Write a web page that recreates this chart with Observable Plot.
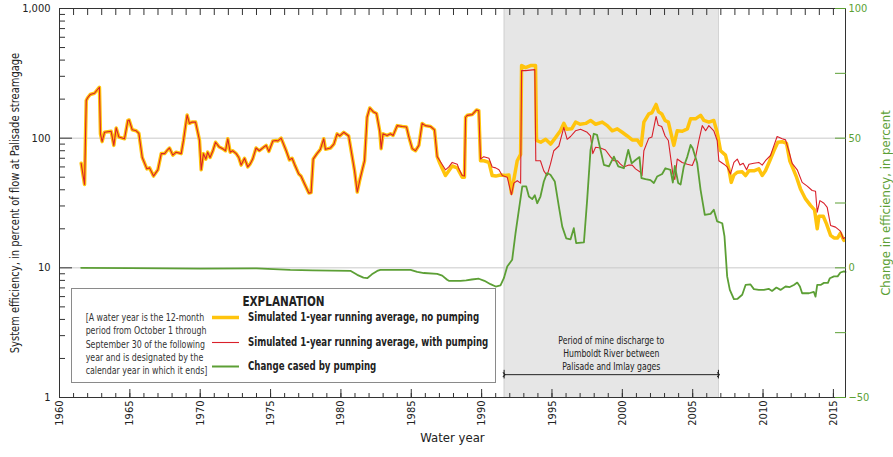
<!DOCTYPE html>
<html><head><meta charset="utf-8">
<script src="https://cdn.jsdelivr.net/npm/d3@7"></script>
<script src="https://cdn.jsdelivr.net/npm/@observablehq/plot@0.6"></script>
<style>
body{margin:0;background:#fff;}
#wrap{position:relative;width:893px;height:457px;font-family:"Liberation Sans Narrow","Arial Narrow","DejaVu Sans Condensed",sans-serif;color:#222;}
#legend{position:absolute;left:71px;top:288px;width:425px;height:95px;box-sizing:border-box;border:1.5px solid #8a8a8a;background:#fff;}
#legend .title{position:absolute;left:0;width:100%;top:4px;text-align:center;font-weight:bold;font-size:13.5px;white-space:nowrap;transform:scaleX(0.86);transform-origin:center;}
#legend .note{position:absolute;left:6px;width:122px;top:22px;text-align:center;font-size:10px;line-height:13.35px;color:#333;white-space:nowrap;transform:scaleX(0.875);transform-origin:center;}
#legend .item{position:absolute;left:176px;font-weight:bold;font-size:12px;line-height:14px;white-space:nowrap;transform:scaleX(0.8);transform-origin:left center;}
#legend svg{position:absolute;left:0;top:0;}
</style></head>
<body><div id="wrap"></div>
<script>
// ---- Data ----
// Shared part of both simulated series (identical before ~1987)
const bothYears = [1961.54,1961.78,1961.9,1962.0,1962.18,1962.49,1962.6,1962.84,1962.91,1963.03,1963.2,1963.67,1963.86,1964.03,1964.22,1964.62,1964.86,1964.95,1965.17,1965.45,1965.64,1965.88,1966.21,1966.4,1966.68,1966.99,1967.23,1967.47,1967.63,1967.82,1968.05,1968.29,1968.65,1968.81,1969.07,1969.23,1969.42,1969.67,1969.95,1970.07,1970.23,1970.4,1970.53,1970.7,1970.9,1971.09,1971.33,1971.66,1971.8,1971.96,1972.13,1972.3,1972.56,1972.74,1972.91,1973.15,1973.38,1973.54,1973.73,1973.97,1974.2,1974.5,1974.69,1974.88,1975.16,1975.4,1975.5,1975.75,1976.11,1976.34,1976.53,1976.7,1977.0,1977.16,1977.41,1977.72,1977.88,1978.03,1978.3,1978.54,1978.78,1978.9,1979.26,1979.5,1979.73,1979.92,1980.2,1980.55,1980.8,1980.97,1981.16,1981.35,1981.5,1981.68,1981.86,1982.05,1982.29,1982.53,1982.76,1982.86,1982.99,1983.28,1983.52,1983.71,1984.0,1984.36,1984.66,1984.83,1985.07,1985.3,1985.54,1985.77,1986.0,1986.37,1986.65,1986.84];
const bothValues = [64,44,195,205,217,222,230,247,108,94,111,113,88,120,102,99,137,138,116,114,109,71,58,59,51,57,76,76,80,84,74,78,76,96,151,130,133,133,96,57,76,69,78,71,80,93,86,82,80,99,78,80,76,71,62,70,60,63,69,84,80,85,88,79,95,96,95,100,80,68,70,63,53,51,44.5,37.7,38,69,76,82,99,82,84,90,108,104,111,104,72,56,38.4,48,56,67,145,171,160,155,113,83,108,105,108,105,125,123,122,102,83,80,88,130,125,123,116,72];

// Simulated 1-year running average, no pumping (after 1986.84)
const noPumpYears = [1987.03,1987.43,1987.67,1987.91,1988.27,1988.38,1988.62,1988.78,1988.86,1988.98,1989.33,1989.64,1989.8,1989.92,1990.16,1990.52,1990.75,1991.0,1991.34,1991.7,1991.94,1992.12,1992.29,1992.53,1992.77,1992.84,1993.12,1993.48,1993.83,1993.9,1994.2,1994.55,1994.9,1995.25,1995.6,1995.84,1996.05,1996.4,1996.68,1997.0,1997.4,1997.74,1998.1,1998.57,1998.93,1999.28,1999.64,1999.99,2000.35,2000.7,2001.06,2001.34,2001.53,2001.88,2002.1,2002.4,2002.57,2002.8,2003.04,2003.27,2003.66,2003.9,2004.26,2004.62,2004.85,2005.2,2005.56,2005.8,2006.15,2006.5,2006.74,2006.98,2007.33,2007.57,2007.74,2007.93,2008.17,2008.52,2008.76,2009.0,2009.35,2009.7,2009.94,2010.17,2010.48,2010.77,2011.05,2011.36,2011.67,2011.9,2012.14,2012.38,2012.66,2013.02,2013.37,2013.66,2013.85,2013.97,2014.28,2014.51,2014.8,2015.04,2015.3,2015.5,2015.74];
const noPumpValues = [64,51.5,56,61,59,56,50,50,145,150,152,165,163,67,67,65,51.5,51,52,51.5,52,37.6,48,67,75,363,350,363,363,96,93,98,90,101,114,130,117,118,133,128,130,137,128,133,125,114,118,111,104,97,97,88,133,154,157,182,160,154,137,133,88,114,113,118,141,141,150,137,133,137,111,80,74,58,45.6,52,54.6,55,51.5,56,56,58,51.5,56,67,80,93,94,91,67,58,50,40.6,34,30.3,28,20,25,25,21.8,17.8,17,17,18.5,16.3];

// Simulated 1-year running average, with pumping (after 1986.84)
const pumpYears = [1987.03,1987.43,1987.67,1987.91,1988.27,1988.38,1988.62,1988.78,1988.86,1988.98,1989.33,1989.64,1989.8,1989.92,1990.16,1990.52,1990.75,1991.0,1991.23,1991.47,1991.82,1992.12,1992.29,1992.53,1992.77,1992.84,1993.12,1993.78,1993.85,1994.18,1994.42,1994.65,1994.89,1995.13,1995.49,1995.84,1996.08,1996.32,1996.67,1997.03,1997.5,1997.74,1997.9,1998.1,1998.45,1998.8,1999.15,1999.4,1999.64,1999.87,2000.1,2000.46,2000.7,2000.94,2001.29,2001.4,2001.53,2001.88,2002.1,2002.4,2002.55,2002.8,2003.04,2003.27,2003.59,2003.73,2003.9,2004.25,2004.62,2004.97,2005.2,2005.44,2005.68,2005.92,2006.15,2006.5,2006.74,2006.86,2007.22,2007.45,2007.69,2007.93,2008.17,2008.36,2008.59,2008.83,2009.0,2009.35,2009.7,2009.94,2010.17,2010.53,2010.81,2011.0,2011.36,2011.6,2011.83,2012.07,2012.43,2012.78,2013.14,2013.49,2013.73,2013.85,2014.04,2014.33,2014.56,2014.8,2015.15,2015.5,2015.7,2015.86];
const pumpValues = [67,57,60,65,63,58,51.5,51,145,150,152,165,163,69,72,70,60,59,57,51.5,50,36.6,45,47,45,332,332,338,67,67,56,51.5,63,80,87,121,98,103,114,117,111,104,76,85,84,81,72,67,67,63,60,62,62,58,54.6,51.5,80,100,102,147,126,123,104,96,53,48,69,65,63,61.6,71,96,125,114,125,114,96,67,63,60,53,65,69,62,64,57,63,64,65,62,67,73.5,90,103,99,97,80,64,57,45.6,42.7,39.5,39,26.9,33,31.5,29.3,21.2,20.6,19.2,16.8,17.2];

// Change caused by pumping, in percent (right axis)
const changeYears = [1961.54,1965,1970,1974,1976.4,1978,1980.7,1981.16,1981.6,1981.87,1982.2,1982.58,1982.8,1984.95,1985.42,1985.9,1986.84,1987.2,1987.55,1987.67,1988.5,1988.9,1989.3,1989.8,1990.2,1990.63,1991.0,1991.34,1991.58,1991.82,1992.17,1992.41,1992.65,1992.89,1993.17,1993.36,1993.6,1993.78,1993.95,1994.18,1994.42,1994.65,1994.89,1995.2,1995.49,1995.73,1996.01,1996.32,1996.55,1996.72,1996.9,1997.27,1997.5,1997.74,1997.97,1998.2,1998.45,1998.69,1999.05,1999.4,1999.71,2000.11,2000.42,2000.66,2000.94,2001.22,2001.36,2001.65,2002.0,2002.24,2002.47,2002.83,2003.06,2003.42,2003.59,2003.73,2003.97,2004.14,2004.37,2004.62,2004.85,2005.0,2005.32,2005.56,2005.86,2006.27,2006.5,2006.74,2007.1,2007.26,2007.45,2007.64,2007.93,2008.17,2008.52,2008.76,2009.11,2009.35,2009.7,2010.06,2010.4,2010.64,2010.95,2011.24,2011.6,2011.9,2012.19,2012.43,2012.62,2012.78,2013.26,2013.61,2013.73,2013.85,2014.09,2014.33,2014.61,2014.75,2015.04,2015.3,2015.5,2015.74,2015.86];
const changeValues = [0,-0.1,-0.3,-0.2,-0.8,-1.0,-1.2,-2.7,-3.8,-4.0,-2.5,-1.2,-0.8,-0.8,-1.6,-2.0,-2.3,-3.0,-4.6,-5.0,-5.0,-4.8,-4.5,-4.2,-5.0,-6.3,-7.2,-6.8,-4.0,0.5,3.1,13.4,22.4,31.4,31.4,27.5,26.5,28.0,24.9,27.5,33.3,36.5,35.9,33.3,23.6,15.9,11.4,11,15.3,9.5,9.6,9.8,26.2,45.5,51.7,51.3,45.5,39.7,39.1,42.9,39.1,38.4,45.5,40.3,41.6,42.7,34.6,34.2,33.8,32.7,35.2,36.2,38.4,37.8,32.9,39.3,32.7,32.1,39.1,42.9,47.4,46.1,40.4,30.1,20.4,20.8,22.4,17.9,17.2,12.1,-3.3,-8.5,-12.1,-12,-10.4,-6.6,-6.4,-8.2,-8.5,-8.5,-8.1,-8.9,-7.6,-8.5,-7.2,-7.4,-6.6,-5.7,-7.2,-9.8,-9.8,-9.3,-11.1,-6.6,-6.6,-5.8,-5.8,-4.0,-3.3,-3.3,-1.8,-1.4,-1.6];

// Period of mine discharge (shaded)
const dischargePeriod = [1991.6, 2006.83];

// Tick values and labels
const leftTicks = [1, 10, 100, 1000];
const leftTickLabels = ["1", "10", "100", "1,000"];
const rightTicks = [-50, -25, 0, 25, 50, 75, 100];
const rightTickLabels = ["\u221250", "", "0", "", "50", "", "100"];
const yearLabels = [1960, 1965, 1970, 1975, 1980, 1985, 1990, 1995, 2000, 2005, 2010, 2015];

const annotationText = "Period of mine discharge to\nHumboldt River between\nPalisade and Imlay gages";
const legendItems = [
  {label: "Simulated 1-year running average, no pumping", color: "#ffc40d", width: 3.5},
  {label: "Simulated 1-year running average, with pumping", color: "#d9202a", width: 1.1},
  {label: "Change cased by pumping", color: "#5c9f35", width: 2}
];
const legendNote = "[A water year is the 12-month<br>period from October 1 through<br>September 30 of the following<br>year and is designated by the<br>calendar year in which it ends]";

// ---- Build ----
const GREEN = "#5c9f35";
const toLog = c => Math.pow(10, (c + 50) / 50); // right axis (-50..100) onto left log axis (1..1000)
const pts = (xs, ys) => xs.map((x, i) => ({x, y: ys[i]}));
const shared = pts(bothYears, bothValues);
const noPump = shared.concat(pts(noPumpYears, noPumpValues));
const pump = shared.concat(pts(pumpYears, pumpValues));
const change = changeYears.map((x, i) => ({x, y: toLog(changeValues[i])}));

const minorLeft = [];
for (const d of [1, 10, 100]) for (let k = 2; k <= 9; k++) minorLeft.push(d * k);
const yearsAll = d3.range(1960, 2016);
const FONT = '"Liberation Sans Narrow","Arial Narrow","DejaVu Sans Condensed",sans-serif';
const LEFT_TITLE = "System efficiency, in percent of flow at Palisade streamgage";

const chart = Plot.plot({
  width: 893, height: 457,
  marginLeft: 59, marginRight: 48, marginTop: 8, marginBottom: 60,
  x: {domain: [1960, 2015.86]},
  y: {type: "log", domain: [1, 1000]},
  style: {fontFamily: FONT, fontSize: "11px", color: "#222", background: "#fff", overflow: "visible"},
  marks: [
    Plot.rect([dischargePeriod], {x1: d => d[0], x2: d => d[1], y1: 1, y2: 1000, fill: "#e6e6e6"}),
    Plot.ruleX(dischargePeriod, {stroke: "#d2d2d2"}),
    Plot.ruleY([10, 100], {stroke: "#c9c9c9"}),
    Plot.line(noPump, {x: "x", y: "y", stroke: legendItems[0].color, strokeWidth: 3.5}),
    Plot.line(pump, {x: "x", y: "y", stroke: legendItems[1].color, strokeWidth: 1.1}),
    Plot.line(change, {x: "x", y: "y", stroke: GREEN, strokeWidth: 1.8}),
    // annotation for discharge period
    Plot.text([annotationText], {x: (dischargePeriod[0] + dischargePeriod[1]) / 2, y: 1.75, dy: 4, text: d => d, lineAnchor: "bottom", fontSize: 11, lineHeight: 1.18, fill: "#222"}),
    Plot.link([dischargePeriod], {x1: d => d[0], x2: d => d[1], y1: 1.5, y2: 1.5, stroke: "#222", markerStart: "arrow", markerEnd: "arrow"}),
    Plot.ruleX(dischargePeriod, {y1: 1.39, y2: 1.62, stroke: "#222"}),
    // frame and axes
    Plot.frame({stroke: "#333"}),
    Plot.axisY(leftTicks, {anchor: "left", tickSize: -13, tickPadding: 22, tickFormat: d => leftTickLabels[leftTicks.indexOf(d)], label: null, stroke: "#333"}),
    Plot.axisY(minorLeft, {anchor: "left", tickSize: -6, tickFormat: () => "", label: null, stroke: "#333"}),
    Plot.axisY(rightTicks.map(toLog), {anchor: "right", tickSize: -11, tickPadding: 14, tickFormat: d => rightTickLabels[rightTicks.map(toLog).indexOf(d)], label: null, color: GREEN}),
    Plot.axisX(yearsAll, {anchor: "bottom", tickSize: -4, tickFormat: () => "", label: null, stroke: "#333"}),
    Plot.axisX(yearLabels, {anchor: "bottom", tickSize: -8, tickRotate: -90, tickPadding: 11, tickFormat: d => String(d), label: null, stroke: "#333"}),
    Plot.axisX(yearsAll, {anchor: "top", tickSize: -6, tickFormat: () => "", label: null, stroke: "#333"}),
    // axis titles
    Plot.text([LEFT_TITLE], {frameAnchor: "left", dx: -45, rotate: -90, textAnchor: "middle", fontSize: 13, fill: "#222"}),
    Plot.text(["Change in efficiency, in percent"], {frameAnchor: "right", dx: 40, rotate: -90, textAnchor: "middle", fontSize: 13, fill: GREEN}),
    Plot.text(["Water year"], {frameAnchor: "bottom", dy: 44, fontSize: 13, fill: "#222"})
  ]
});

// narrow some texts horizontally to mimic the condensed typeface of the original
const squeeze = [[LEFT_TITLE, 0.85], ["Period of mine", 0.78]];
chart.querySelectorAll("text").forEach(el => {
  const s = squeeze.find(([t]) => el.textContent.startsWith(t));
  if (s) {
    const tr = el.getAttribute("transform");
    if (tr) el.setAttribute("transform", tr + ` scale(${s[1]},1)`);
  }
});

const wrap = document.getElementById("wrap");
wrap.appendChild(chart);

// Legend (explanation box)
const legend = document.createElement("div");
legend.id = "legend";
const rows = [28.5, 53.5, 77.5];
let html = `<div class="title">EXPLANATION</div><div class="note">${legendNote}</div>`;
html += `<svg width="425" height="95">` + legendItems.map((it, i) =>
  `<line x1="140" x2="167" y1="${rows[i]}" y2="${rows[i]}" stroke="${it.color}" stroke-width="${it.width}"/>`).join("") + `</svg>`;
html += legendItems.map((it, i) => `<div class="item" style="top:${rows[i] - 8}px">${it.label}</div>`).join("");
legend.innerHTML = html;
wrap.appendChild(legend);
</script>
</body></html>
